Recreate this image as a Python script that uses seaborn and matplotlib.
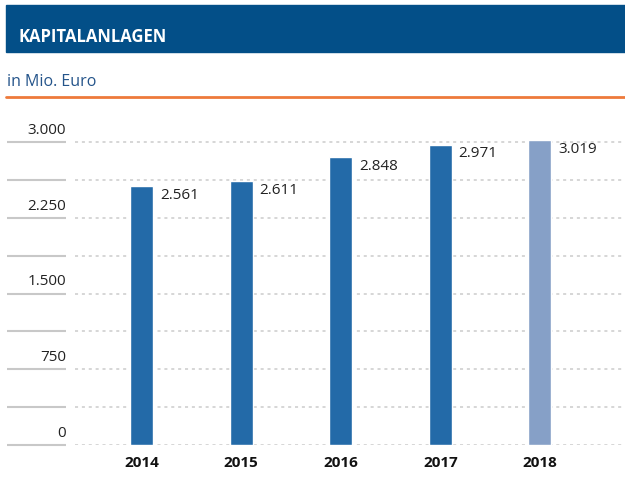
import matplotlib
matplotlib.use("Agg")
import matplotlib.pyplot as plt
import seaborn as sns
import pandas as pd

# data (Mio. Euro)
years = ["2014", "2015", "2016", "2017", "2018"]
values = [2561, 2611, 2848, 2971, 3019]
bar_colors = ["#236aa8", "#236aa8", "#236aa8", "#236aa8", "#86a0c7"]
grid_ticks = [0, 375, 750, 1125, 1500, 1875, 2250, 2625, 3000]
label_ticks = [0, 750, 1500, 2250, 3000]

sns.set_theme(style="white")
plt.rcParams["font.family"] = ["Open Sans", "DejaVu Sans"]

df = pd.DataFrame({"year": years, "value": values})

fig = plt.figure(figsize=(6.25, 4.86), dpi=100)

# header band with title
fig.patches.append(plt.Rectangle((6 / 625, 1 - 52 / 486), 619 / 625, 47 / 486,
                                 transform=fig.transFigure, color="#034f88", zorder=0))
fig.text(18 / 625, 1 - 36.5 / 486, "KAPITALANLAGEN", color="white", fontsize=12,
         fontweight="bold", va="center", ha="left")
fig.text(7 / 625, 1 - 82 / 486, "in Mio. Euro", color="#24548a", fontsize=11.5,
         va="center", ha="left")
fig.lines.append(plt.Line2D([6 / 625, 1], [1 - 96.5 / 486, 1 - 96.5 / 486],
                            transform=fig.transFigure, color="#ee7a3b", lw=2))

ax = fig.add_axes([75 / 625, 41 / 486, 550 / 625, 325 / 486])
sns.barplot(data=df, x="year", y="value", hue="year", palette=bar_colors,
            width=0.23, legend=False, ax=ax, zorder=3, saturation=1)

ax.set_xlim(-0.668, 4.854)
ax.set_ylim(0, 3218)

# dashed grid inside the plot area
ax.hlines(grid_ticks, -0.668, 4.854, colors="#cccccc", linestyles=(0, (2, 2.5)),
          lw=1.1, zorder=1)
# solid short lines on the left side with labels above
ax.hlines(grid_ticks, -1.35, -0.76, colors="#c8c8c8", lw=1.5, clip_on=False)
for t in label_ticks:
    ax.annotate(f"{t:,}".replace(",", "."), xy=(-0.76, t), xytext=(0, 3),
                textcoords="offset points", ha="right", va="bottom",
                fontsize=11, color="#222222", annotation_clip=False)

# value labels to the right of each bar top
for i, v in enumerate(values):
    ax.annotate(f"{v:,}".replace(",", "."), xy=(i + 0.115, v), xytext=(5, -6.5),
                textcoords="offset points", ha="left", va="center",
                fontsize=11, color="#222222")

for s in ax.spines.values():
    s.set_visible(False)
ax.set_yticks([])
ax.set_xlabel("")
ax.set_ylabel("")
ax.tick_params(axis="x", length=0, pad=8)
for lbl in ax.get_xticklabels():
    lbl.set_fontweight("bold")
    lbl.set_fontsize(11)
    lbl.set_color("#111111")

fig.savefig("out.png", dpi=100)
